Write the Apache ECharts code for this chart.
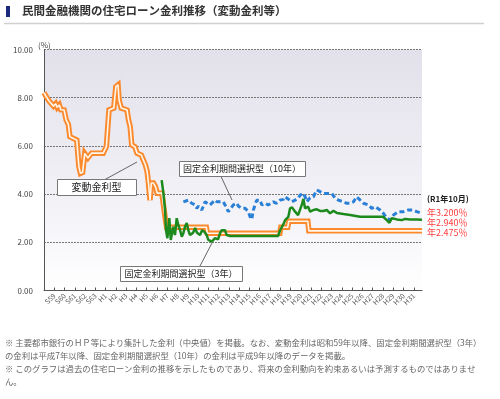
<!DOCTYPE html>
<html><head><meta charset="utf-8">
<script src="https://cdn.jsdelivr.net/npm/echarts@6/dist/echarts.min.js"></script>
<style>html,body{margin:0;padding:0;background:#fff}#c{width:500px;height:399px}</style>
</head><body><div id="c"></div>
<script>
// x-axis tick labels (one tick per label on the label axis)
const tickLabels = ['S59','S60','S61','S62','S63','H1','H2','H3','H4','H5','H6','H7','H8','H9','H10','H11','H12','H13','H14','H15','H16','H17','H18','H19','H20','H21','H22','H23','H24','H25','H26','H27','H28','H29','H30','H31'];
const yTicks = [0,2,4,6,8,10];
// 変動金利型 [year, %]
const variableRate = [[1984.0,8.21],[1984.2,8.05],[1984.5,7.85],[1984.9,7.65],[1985.1,7.75],[1985.25,7.6],[1985.45,7.7],[1985.6,7.5],[1985.9,7.49],[1986.1,7.07],[1986.3,6.9],[1986.45,6.38],[1987.1,6.24],[1987.3,5.14],[1987.45,4.86],[1987.65,4.9],[1987.85,5.69],[1988.15,5.5],[1988.5,5.7],[1989.6,5.7],[1989.9,5.97],[1990.15,7.49],[1990.6,7.57],[1990.8,8.46],[1991.0,8.53],[1991.1,7.9],[1991.3,7.57],[1991.85,7.49],[1992.0,7.07],[1992.15,6.8],[1992.3,6.04],[1992.6,5.96],[1992.8,5.7],[1993.2,5.62],[1993.4,5.41],[1993.6,5.2],[1993.75,4.95],[1993.87,4.5],[1994.03,3.75],[1994.15,4.46],[1994.35,4.46],[1994.55,4.3],[1994.7,4.04],[1995.15,4.04],[1995.3,3.96],[1995.45,3.05],[1995.6,2.625],[1999.35,2.625],[1999.45,2.375],[2006.3,2.375],[2006.4,2.625],[2007.05,2.625],[2007.15,2.875],[2008.95,2.875],[2009.05,2.475],[2019.75,2.475]];
// 固定金利期間選択型（3年）
const fixed3y = [[1995.13,4.58],[1995.29,4.04],[1995.45,3.33],[1995.54,2.5],[1995.67,2.17],[1995.85,3.0],[1995.99,2.1],[1996.23,2.65],[1996.39,2.3],[1996.55,3.0],[1996.7,2.72],[1996.87,2.5],[1997.03,2.23],[1997.18,2.38],[1997.34,2.65],[1997.5,2.8],[1997.65,2.5],[1997.81,2.3],[1998.1,2.4],[1998.29,2.59],[1998.47,2.4],[1998.76,2.3],[1998.95,2.5],[1999.14,2.45],[1999.39,2.3],[1999.54,2.1],[1999.87,2.03],[2000.18,2.17],[2000.46,2.12],[2000.65,2.38],[2000.81,2.5],[2001.12,2.5],[2001.28,2.3],[2001.6,2.26],[2006.14,2.26],[2006.33,2.5],[2006.61,2.72],[2006.8,2.92],[2007.11,3.06],[2007.27,3.41],[2007.46,3.45],[2007.75,3.27],[2008.03,3.13],[2008.38,3.55],[2008.53,3.8],[2008.69,3.41],[2008.98,3.48],[2009.17,3.27],[2009.48,3.34],[2009.8,3.37],[2010.11,3.3],[2010.42,3.3],[2010.74,3.34],[2011.06,3.2],[2011.37,3.31],[2011.69,3.22],[2012.32,3.17],[2012.95,3.13],[2013.9,3.06],[2015.47,3.06],[2016.07,3.06],[2016.42,2.92],[2016.67,2.81],[2016.9,3.0],[2017.37,2.95],[2017.84,2.92],[2018.15,2.97],[2018.63,2.95],[2019.2,2.95],[2019.75,2.94]];
// 固定金利期間選択型（10年）
const fixed10y = [[1997.18,3.68],[1997.34,3.75],[1997.65,3.75],[1997.97,3.62],[1998.29,3.55],[1998.45,3.41],[1998.6,3.5],[1998.92,3.34],[1999.07,3.5],[1999.23,3.68],[1999.5,3.6],[1999.7,3.55],[1999.87,3.62],[2000.18,3.75],[2000.37,3.68],[2000.65,3.68],[2000.96,3.68],[2001.12,3.55],[2001.43,3.27],[2001.6,3.34],[2001.91,3.55],[2002.23,3.62],[2002.39,3.5],[2002.7,3.41],[2003.02,3.41],[2003.33,3.27],[2003.49,3.06],[2003.65,2.95],[2003.8,3.34],[2003.96,3.55],[2004.12,3.75],[2004.27,3.83],[2004.43,3.75],[2004.6,3.55],[2004.9,3.62],[2005.2,3.55],[2005.38,3.62],[2005.69,3.68],[2006.0,3.62],[2006.33,3.75],[2006.64,3.78],[2006.8,3.89],[2007.08,3.8],[2007.43,3.68],[2007.75,3.75],[2008.06,3.83],[2008.22,3.96],[2008.53,4.03],[2008.69,3.89],[2008.85,3.68],[2009.17,3.85],[2009.48,3.89],[2009.8,4.17],[2009.95,4.24],[2010.11,4.1],[2010.42,4.03],[2010.58,4.1],[2010.9,4.03],[2011.22,4.03],[2011.53,3.83],[2011.84,3.75],[2012.32,3.68],[2012.64,3.62],[2012.95,3.62],[2013.26,3.68],[2013.58,3.89],[2013.9,3.75],[2014.21,3.62],[2014.68,3.55],[2015.0,3.41],[2015.31,3.48],[2015.79,3.34],[2016.1,3.2],[2016.42,3.0],[2016.73,2.92],[2017.05,3.13],[2017.52,3.27],[2018.0,3.27],[2018.47,3.34],[2018.82,3.34],[2019.26,3.27],[2019.73,3.2]];
const latestLabels = ['年3.200％','年2.940％','年2.475％'];
const latestTitle = '(R1年10月)';
const seriesNames = ['変動金利型','固定金利期間選択型（3年）','固定金利期間選択型（10年）'];
const titleText = '民間金融機関の住宅ローン金利推移（変動金利等）';
const notes = [
 '※ 主要都市銀行のＨＰ等により集計した金利（中央値）を掲載。なお、変動金利は昭和59年以降、固定金利期間選択型（3年）',
 'の金利は平成7年以降、固定金利期間選択型（10年）の金利は平成9年以降のデータを掲載。',
 '※ このグラフは過去の住宅ローン金利の推移を示したものであり、将来の金利動向を約束あるいは予測するものではありませ',
 'ん。'
];

const FONT = '"Noto Sans CJK JP", "Noto Sans", sans-serif';
const chart = echarts.init(document.getElementById('c'), null, {renderer:'canvas'});

function box(x, y, w, h, text, fs) {
  return [
    {type:'rect', shape:{x:x+0.5, y:y+0.5, width:w, height:h}, style:{fill:'#fff', stroke:'#777', lineWidth:1}, z:100},
    {type:'text', x:x + w/2, y:y + h/2 + 0.5, style:{text:text, fill:'#222', font:'normal ' + fs + 'px ' + FONT, textAlign:'center', textVerticalAlign:'middle'}, z:101}
  ];
}
function leader(x1,y1,x2,y2){
  return {type:'line', shape:{x1:x1,y1:y1,x2:x2,y2:y2}, style:{stroke:'#666', lineWidth:1}, z:99};
}

const graphics = [
  {type:'rect', shape:{x:6, y:6, width:4, height:11}, style:{fill:'#1b2a7a'}},
  {type:'text', x:22, y:11, style:{text:titleText, fill:'#333', font:'bold 11.5px ' + FONT, textVerticalAlign:'middle'}},
  {type:'line', shape:{x1:4, y1:23.5, x2:484, y2:23.5}, style:{stroke:'#d0d0d0', lineWidth:1.5}},
  {type:'text', x:38, y:45, style:{text:'(%)', fill:'#444', font:'normal 8px ' + FONT, textVerticalAlign:'middle'}},
  {type:'text', x:427, y:199, style:{text:latestTitle, fill:'#222', font:'bold 8px ' + FONT, textVerticalAlign:'middle'}},
  ...latestLabels.map((t,i)=>({type:'text', x:427, y:212.5 + i*10, style:{text:t, fill:'#ff3c3c', font:'normal 9px ' + FONT, textVerticalAlign:'middle'}})),
  ...box(57, 179, 79, 16, seriesNames[0], 10),
  leader(105, 179.5, 137, 162),
  ...box(179, 161, 126, 15, seriesNames[2], 9),
  leader(221, 176.5, 232, 200),
  ...box(120, 266, 122, 15, seriesNames[1], 9),
  leader(200, 266, 212, 243),
  ...notes.map((t,i)=>({type:'text', x:5, y:343 + i*13, style:{text:t, fill:'#666', font:'normal 8.4px ' + FONT, textVerticalAlign:'middle'}}))
];

chart.setOption({
  animation:false,
  backgroundColor:'#fff',
  textStyle:{fontFamily:FONT},
  grid:{left:44, right:78, top:49.5, bottom:108.5, show:true, borderWidth:0,
    backgroundColor:{type:'linear', x:0, y:0, x2:0, y2:1, colorStops:[{offset:0,color:'#e2e0ea'},{offset:0.75,color:'#f6f5f9'},{offset:1,color:'#ffffff'}]}},
  xAxis:[
    {type:'value', min:1984, max:2019.75, show:false, splitLine:{show:false}},
    {type:'value', position:'bottom', min:0, max:36.8, interval:1,
      axisLine:{show:true, onZero:false, lineStyle:{color:'#555', width:1}},
      axisTick:{show:true, inside:true, length:3, lineStyle:{color:'#555'}},
      splitLine:{show:false},
      axisLabel:{show:true, rotate:45, fontSize:7, color:'#555', margin:4, showMinLabel:false, showMaxLabel:false,
        formatter:function(v){ const i = Math.round(v) - 1; return (i>=0 && i<tickLabels.length && Math.abs(v-Math.round(v))<1e-6) ? tickLabels[i] : ''; }}
    }
  ],
  yAxis:{type:'value', min:yTicks[0], max:yTicks[yTicks.length-1], interval:2,
    axisLine:{show:true, lineStyle:{color:'#555', width:1}},
    axisTick:{show:false},
    splitLine:{show:true, lineStyle:{color:'#777', type:[2,1], width:1}},
    axisLabel:{fontSize:8, color:'#444', margin:11, formatter:v=>v.toFixed(2)}
  },
  series:[
    {type:'line', xAxisIndex:0, name:seriesNames[0]+'_o', data:variableRate, showSymbol:false, lineStyle:{color:'#fb8a2e', width:5.5, join:'miter'}, z:3},
    {type:'line', xAxisIndex:0, name:seriesNames[0], data:variableRate, showSymbol:false, lineStyle:{color:'#fff6ea', width:1.6}, z:4},
    {type:'line', xAxisIndex:0, name:seriesNames[2], data:fixed10y, showSymbol:false, lineStyle:{color:'#2a80d6', width:3, type:[5,3]}, z:5},
    {type:'line', xAxisIndex:0, name:seriesNames[1], data:fixed3y, showSymbol:false, lineStyle:{color:'#1c8a1c', width:2.5}, z:6}
  ],
  graphic:graphics
});
</script></body></html>
